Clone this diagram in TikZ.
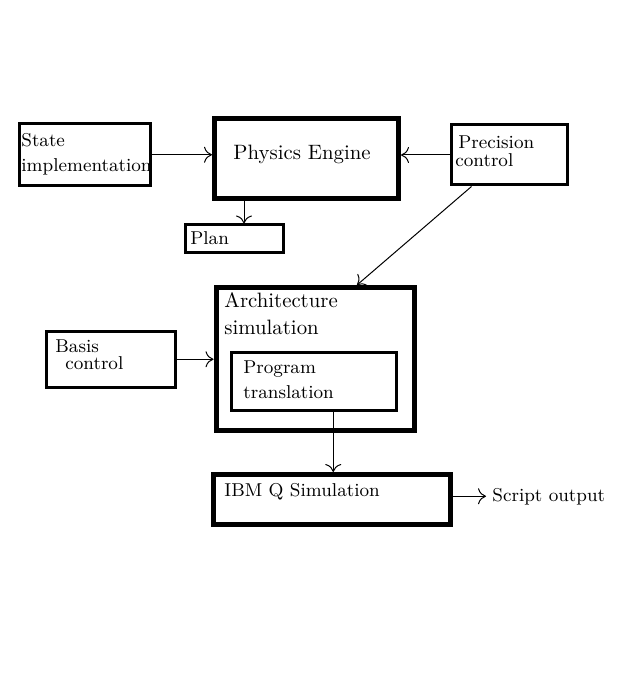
\documentclass[tikz,border=0pt]{standalone}
\usetikzlibrary{arrows.meta}

\begin{document}
\begin{tikzpicture}[x=0.5pt, y=-0.5pt,
    thickbox/.style={draw, line width=2.5pt, inner sep=0pt},
    thinbox/.style={draw, line width=1.5pt, inner sep=0pt},
    txt/.style={anchor=base west, inner sep=0pt, font=\fontsize{9.3}{11}\selectfont},
    bigtxt/.style={txt, font=\fontsize{10.4}{12}\selectfont},
    arr/.style={line width=0.5pt, -{To[length=4pt,width=8pt]}}]
    \useasboundingbox (0,0) rectangle (625,694);
    % boxes
    \node[thinbox, minimum width=65.5pt, minimum height=30.75pt] (state) at (85,154.75) {};
    \node[thickbox, minimum width=92pt, minimum height=40pt] (phys) at (306.5,159) {};
    \node[thinbox, minimum width=49pt, minimum height=14pt] (plan) at (234,239) {};
    \node[thinbox, minimum width=58pt, minimum height=30pt] (prec) at (509,155) {};
    \node[thickbox, minimum width=99pt, minimum height=71.25pt] (arch) at (315,358.75) {};
    \node[thinbox, minimum width=82.25pt, minimum height=28.75pt] (prog) at (313.75,381.25) {};
    \node[thinbox, minimum width=64.25pt, minimum height=27.75pt] (basis) at (110.75,359.25) {};
    \node[thickbox, minimum width=118.25pt, minimum height=24.75pt] (ibm) at (331.75,499.25) {};
    % texts
    \node[txt] (stateA) at (21,146.7) {State};
    \node[txt] (stateB) at (21,171.7) {implementation};
    \node[bigtxt] (physA) at (233,160) {Physics Engine};
    \node[txt] (planA) at (190,245) {Plan};
    \node[txt] (precA) at (458,149) {Precision};
    \node[txt] (precB) at (455,166.5) {control};
    \node[bigtxt] (archA) at (224,307.3) {Architecture};
    \node[bigtxt] (archB) at (224,335) {simulation};
    \node[txt] (progA) at (243,373.3) {Program};
    \node[txt] (progB) at (243,398.3) {translation};
    \node[txt] (basisA) at (55,352.3) {Basis};
    \node[txt] (basisB) at (65,369.3) {control};
    \node[txt] (ibmA) at (224,496.7) {IBM Q Simulation};
    \node[txt, inner sep=3pt] (out) at (486,501) {Script output};
    % connectors
    \draw[arr] (state.east) -- (state.east -| phys.west);
    \draw[arr] ([xshift=5pt]plan.north |- phys.south) -- ([xshift=5pt]plan.north);
    \draw[arr] (prec.west) -- (prec.west -| phys.east);
    \draw[arr] ([xshift=11pt]prec.south west) -- ([xshift=21pt]arch.north);
    \draw[arr] (basis.east) -- (basis.east -| arch.west);
    \draw[arr] ([xshift=9.75pt,yshift=1pt]prog.south) -- ([xshift=9.75pt]prog.south |- ibm.north);
    \draw[arr] (ibm.east |- out.west) -- (out.west);
\end{tikzpicture}
\end{document}
